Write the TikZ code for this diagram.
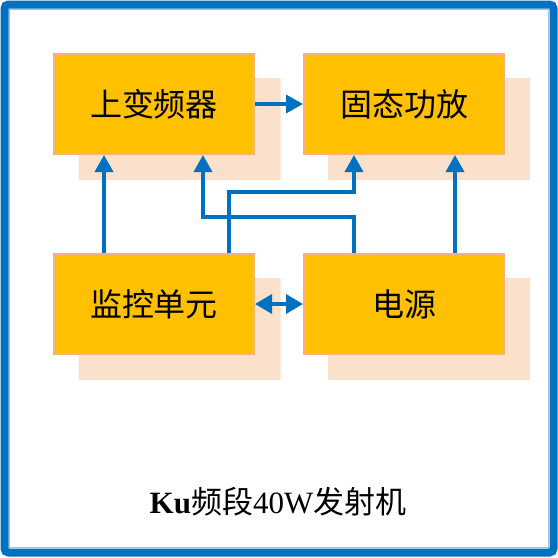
\documentclass[tikz,border=0pt]{standalone}
\usepackage{fontspec}
\setmainfont{Liberation Serif}
\newfontfamily\cjk{Noto Sans CJK SC}
\usetikzlibrary{arrows.meta}
\definecolor{frameblue}{HTML}{0070C0}
\definecolor{lightblue}{HTML}{9DC3E6}
\definecolor{boxfill}{HTML}{FFC000}
\definecolor{boxline}{HTML}{F4B183}
\definecolor{shadowfill}{HTML}{FBE0CB}
\tikzset{
  blockbox/.style={draw=boxline, line width=2pt, fill=boxfill, minimum width=200pt, minimum height=100pt, inner sep=0pt, font=\cjk\fontsize{32}{34}\selectfont},
  shadowbox/.style={fill=shadowfill, minimum width=202pt, minimum height=102pt, inner sep=0pt, rounded corners=1pt},
  arr/.style={draw=frameblue, line width=3.5pt, -{Triangle[width=18pt,length=17pt]}},
  darr/.style={draw=frameblue, line width=3.5pt, {Triangle[width=19pt,length=17pt]}-{Triangle[width=19pt,length=17pt]}}
}
\begin{document}
\begin{tikzpicture}[x=1pt,y=-1pt]
\useasboundingbox (0,0) rectangle (558,558);
\fill[white] (0,0) rectangle (558,558);
\draw[frameblue, line width=8pt, rounded corners=4pt] (4.5,4.5) rectangle (553.5,552.5);
\draw[lightblue, line width=1pt] (9.5,9.5) rectangle (548.5,547.5);
% shadows
\node[shadowbox] (s1) at (179.5,129) {};
\node[shadowbox] (s2) at (429,129) {};
\node[shadowbox] (s3) at (179.5,329) {};
\node[shadowbox] (s4) at (429,329) {};
% blocks
\node[blockbox] (up) at (154,104) {上变频器};
\node[blockbox] (pa) at (404,104) {固态功放};
\node[blockbox] (mon) at (154,304) {监控单元};
\node[blockbox] (pw) at (404,304) {电源};
% connectors
\draw[arr] (up.east) -- (pa.west);
\draw[arr] ([xshift=-50pt]mon.north) -- ([xshift=-50pt]up.south);
\draw[arr] ([xshift=-50pt]pw.north) |- (203,217) -- ([xshift=49pt]up.south);
\draw[arr] ([xshift=75pt]mon.north) |- (354,192) -- ([xshift=-50pt]pa.south);
\draw[arr] ([xshift=51pt]pw.north) -- ([xshift=51pt]pa.south);
\draw[darr] (mon.east) -- (pw.west);
% title
\node (title) at (278,502) {\fontsize{31}{33}\selectfont\textbf{Ku}{\cjk 频段}40W{\cjk 发射机}};
\end{tikzpicture}
\end{document}
